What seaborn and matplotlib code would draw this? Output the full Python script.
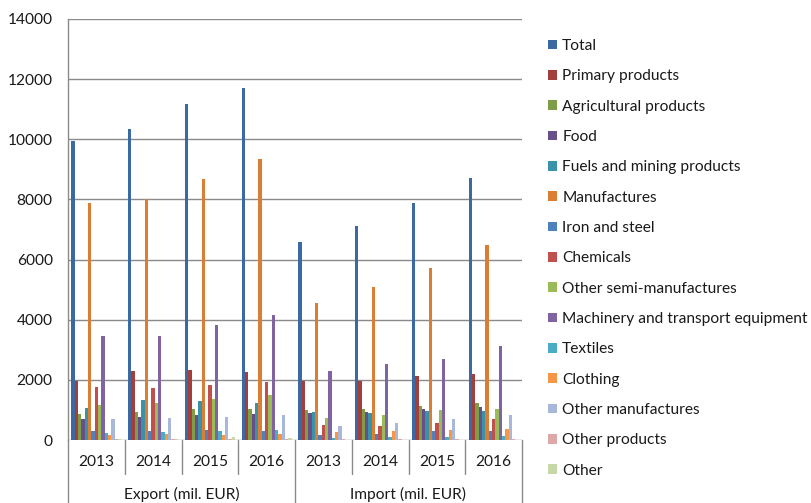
import matplotlib
matplotlib.use("Agg")
import matplotlib.pyplot as plt
import seaborn as sns
import pandas as pd

# Category axis: flow type (outer level) and year (inner level)
flows = ["Export (mil. EUR)", "Import (mil. EUR)"]
years = ["2013", "2014", "2015", "2016"]
categories = [f"{f} {y}" for f in flows for y in years]

series = [
    "Total", "Primary products", "Agricultural products", "Food",
    "Fuels and mining products", "Manufactures", "Iron and steel",
    "Chemicals", "Other semi-manufactures",
    "Machinery and transport equipment", "Textiles", "Clothing",
    "Other manufactures", "Other products", "Other",
]

total = [9930, 10350, 11160, 11690, 6600, 7110, 7880, 8710]
primary_products = [1960, 2290, 2330, 2270, 1960, 1960, 2120, 2200]
agricultural_products = [870, 930, 1020, 1020, 1010, 1030, 1120, 1220]
food = [690, 770, 840, 880, 900, 930, 1020, 1100]
fuels_mining = [1070, 1330, 1310, 1230, 930, 900, 970, 960]
manufactures = [7880, 8010, 8670, 9330, 4570, 5090, 5720, 6480]
iron_steel = [310, 310, 330, 310, 180, 200, 310, 290]
chemicals = [1760, 1730, 1840, 1930, 500, 470, 560, 690]
other_semi = [1160, 1220, 1370, 1500, 740, 840, 990, 1030]
machinery = [3470, 3470, 3840, 4170, 2310, 2520, 2700, 3110]
textiles = [220, 270, 290, 330, 80, 100, 100, 130]
clothing = [170, 200, 180, 200, 260, 310, 330, 370]
other_manufactures = [700, 730, 770, 830, 480, 560, 700, 820]
other_products = [30, 30, 20, 40, 20, 20, 20, 20]
other = [40, 40, 110, 60, 15, 15, 10, 10]

values = [
    total, primary_products, agricultural_products, food, fuels_mining,
    manufactures, iron_steel, chemicals, other_semi, machinery, textiles,
    clothing, other_manufactures, other_products, other,
]

colors = [
    "#3C69A1", "#A23E3B", "#7F9C46", "#674F8A", "#3A92A9", "#DB7E34",
    "#4F81BD", "#C0504D", "#9BBB59", "#8064A2", "#4BACC6", "#F79646",
    "#A8B8DA", "#DDA8A7", "#C6D8A8",
]

rows = []
for name, vals in zip(series, values):
    for cat, v in zip(categories, vals):
        rows.append({"category": cat, "series": name, "value": v})
df = pd.DataFrame(rows)

sns.set_style("white")
plt.rcParams["font.family"] = ["Lato", "DejaVu Sans"]
text_color = "#1a1a1a"
line_color = "#8a8a8a"
fs = 11.2

W, H = 812, 503
fig = plt.figure(figsize=(W / 100, H / 100), dpi=100)
left, right, top, bottom = 68, 522, 19, 440
ax = fig.add_axes([left / W, 1 - bottom / H, (right - left) / W, (bottom - top) / H])

sns.barplot(
    data=df, x="category", y="value", hue="series",
    order=categories, hue_order=series, palette=colors,
    width=0.88, saturation=1, linewidth=0, errorbar=None, ax=ax,
)

ax.set_xlim(-0.5, len(categories) - 0.5)
ax.set_ylim(0, 14000)
ax.set_yticks(range(0, 14001, 2000))
ax.set_yticklabels([str(v) for v in range(0, 14001, 2000)])
ax.yaxis.grid(True, color=line_color, linewidth=1)
ax.set_axisbelow(True)
ax.set_xlabel("")
ax.set_ylabel("")
ax.set_xticks([])
for s in ["top", "right", "bottom"]:
    ax.spines[s].set_visible(False)
ax.spines["left"].set_color(line_color)
ax.spines["left"].set_linewidth(1)
ax.tick_params(axis="y", direction="out", length=4, width=1, color=line_color,
               pad=7, labelsize=fs, labelcolor=text_color)

# Two-level category labels below the plot
px = 1 / (bottom - top)
trans = ax.get_xaxis_transform()
for i, cat in enumerate(categories):
    ax.text(i, -22 * px, years[i % 4], transform=trans, ha="center", va="center",
            fontsize=fs, color=text_color)
for j, f in enumerate(flows):
    ax.text(j * 4 + 1.5, -54 * px, f, transform=trans, ha="center", va="center",
            fontsize=fs, color=text_color)
for k in range(1, len(categories)):
    if k % 4 == 0:
        continue
    ax.plot([k - 0.5, k - 0.5], [0, -34 * px], transform=trans, color=line_color,
            linewidth=1, clip_on=False)
for k in [0, 4, 8]:
    ax.plot([k - 0.5, k - 0.5], [0, -64 * px], transform=trans, color=line_color,
            linewidth=1, clip_on=False)

# Legend on the right
handles, labels = ax.get_legend_handles_labels()
ax.legend(
    handles, labels, loc="upper left", bbox_to_anchor=(548 / W, 1 - 39 / H),
    bbox_transform=fig.transFigure, frameon=False, fontsize=fs,
    handlelength=0.58, handleheight=0.58, handletextpad=0.33,
    labelspacing=1.05, borderpad=0, borderaxespad=0, labelcolor=text_color,
)

fig.savefig("out.png", dpi=100)
